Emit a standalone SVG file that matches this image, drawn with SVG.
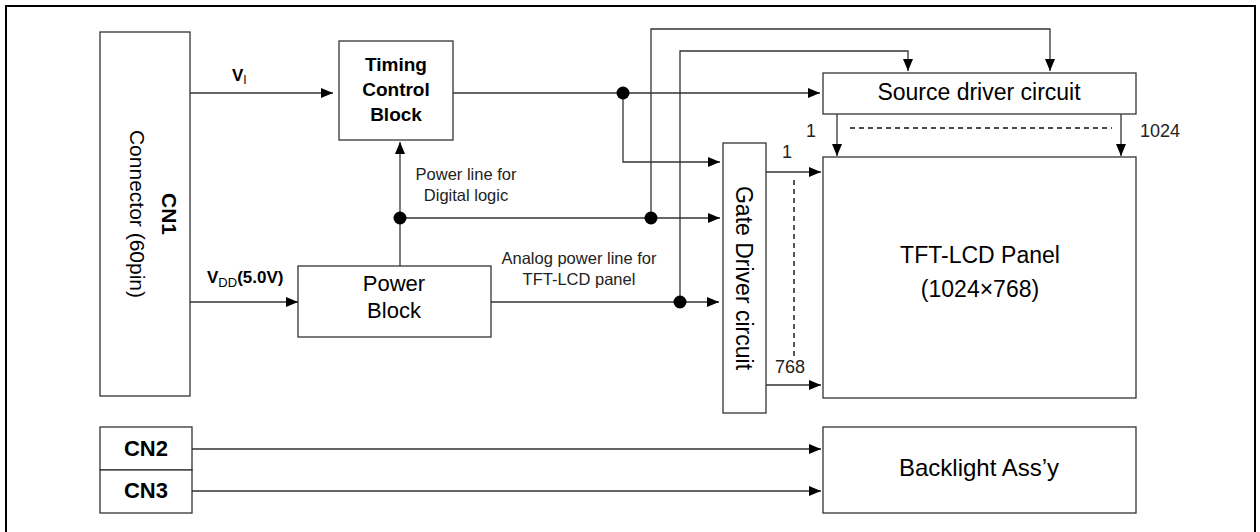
<svg xmlns="http://www.w3.org/2000/svg" width="1260" height="532" viewBox="0 0 1260 532">
<style>
text{font-family:"Liberation Sans",Arial,sans-serif;fill:#000}
.box{fill:#fff;stroke:#333;stroke-width:1.3}
.ln{fill:none;stroke:#333;stroke-width:1.3}
.dash{fill:none;stroke:#111;stroke-width:1.4;stroke-dasharray:5,4}
.lbl{font-size:16.5px;fill:#222}
.num{font-size:18px;fill:#222}
.b{font-weight:bold}
</style>
<defs>
<marker id="ah" viewBox="0 0 12 10" refX="12" refY="5" markerWidth="12" markerHeight="10" markerUnits="userSpaceOnUse" orient="auto">
<path d="M0,0 L12,5 L0,10 z" fill="#000"/>
</marker>
</defs>
<rect x="6" y="6" width="1249" height="545" fill="none" stroke="#000" stroke-width="2"/>

<g id="cn1">
<rect class="box" x="100" y="32" width="90" height="364"/>
<text class="b" font-size="21" text-anchor="middle" transform="translate(162,214) rotate(90)">CN1</text>
<text font-size="21" text-anchor="middle" transform="translate(130,214) rotate(90)">Connector (60pin)</text>
</g>
<g id="timing">
<rect class="box" x="339" y="41" width="114" height="99"/>
<text class="b" font-size="19" text-anchor="middle" x="396" y="71">Timing</text>
<text class="b" font-size="19" text-anchor="middle" x="396" y="96">Control</text>
<text class="b" font-size="19" text-anchor="middle" x="396" y="121">Block</text>
</g>
<g id="power">
<rect class="box" x="298" y="266" width="193" height="71"/>
<text font-size="22" text-anchor="middle" x="394" y="291">Power</text>
<text font-size="22" text-anchor="middle" x="394" y="318">Block</text>
</g>
<g id="gate">
<rect class="box" x="723" y="143" width="43" height="270"/>
<text font-size="23" text-anchor="middle" transform="translate(736,278) rotate(90)">Gate Driver circuit</text>
</g>
<g id="source">
<rect class="box" x="823" y="73" width="313" height="41"/>
<text font-size="23" text-anchor="middle" x="979" y="100">Source driver circuit</text>
</g>
<g id="panel">
<rect class="box" x="823" y="157" width="313" height="241"/>
<text font-size="23" text-anchor="middle" x="980" y="263">TFT-LCD Panel</text>
<text font-size="23" text-anchor="middle" x="980" y="297">(1024×768)</text>
</g>
<g id="cn23">
<rect class="box" x="100" y="427" width="92" height="43"/>
<rect class="box" x="100" y="470" width="92" height="43"/>
<text class="b" font-size="22" text-anchor="middle" x="146" y="456">CN2</text>
<text class="b" font-size="22" text-anchor="middle" x="146" y="498">CN3</text>
</g>
<g id="backlight">
<rect class="box" x="823" y="427" width="313" height="86"/>
<text font-size="24" text-anchor="middle" x="979" y="476">Backlight Ass’y</text>
</g>

<g id="connectors">
<path class="ln" d="M190,93 H333" marker-end="url(#ah)"/>
<path class="ln" d="M453,93 H820" marker-end="url(#ah)"/>
<path class="ln" d="M623,93 V162 H720" marker-end="url(#ah)"/>
<path class="ln" d="M400,266 V142" marker-end="url(#ah)"/>
<path class="ln" d="M400,218 H720" marker-end="url(#ah)"/>
<path class="ln" d="M651,218 V29 H1050 V71" marker-end="url(#ah)"/>
<path class="ln" d="M680,302 V51 H908 V71" marker-end="url(#ah)"/>
<path class="ln" d="M190,302 H298" marker-end="url(#ah)"/>
<path class="ln" d="M491,302 H719" marker-end="url(#ah)"/>
<path class="ln" d="M766,172 H821" marker-end="url(#ah)"/>
<path class="ln" d="M766,385 H821" marker-end="url(#ah)"/>
<path class="ln" d="M837,114 V156" marker-end="url(#ah)"/>
<path class="ln" d="M1121,114 V156" marker-end="url(#ah)"/>
<path class="ln" d="M192,449 H821" marker-end="url(#ah)"/>
<path class="ln" d="M192,491 H821" marker-end="url(#ah)"/>
<path class="dash" d="M794,180 V357"/>
<path class="dash" d="M850,128 H1112"/>
<circle cx="623" cy="93" r="6.5" fill="#000"/>
<circle cx="400" cy="218" r="6.5" fill="#000"/>
<circle cx="651" cy="218" r="6.5" fill="#000"/>
<circle cx="680" cy="302" r="6.5" fill="#000"/>
</g>

<g id="labels">
<text x="232" y="81"><tspan class="b" font-size="17">V</tspan><tspan font-size="12" dy="3">I</tspan></text>
<text x="207" y="283"><tspan class="b" font-size="17">V</tspan><tspan font-size="13" dy="4">DD</tspan><tspan class="b" font-size="17" dy="-4">(5.0V)</tspan></text>
<text class="lbl" text-anchor="middle" x="466" y="180">Power line for</text>
<text class="lbl" text-anchor="middle" x="466" y="201">Digital logic</text>
<text class="lbl" text-anchor="middle" x="579" y="264">Analog power line for</text>
<text class="lbl" text-anchor="middle" x="579" y="285">TFT-LCD panel</text>
<text class="num" x="782" y="158">1</text>
<text class="num" x="775" y="373">768</text>
<text class="num" x="806" y="137">1</text>
<text class="num" x="1140" y="137">1024</text>
</g>
</svg>
